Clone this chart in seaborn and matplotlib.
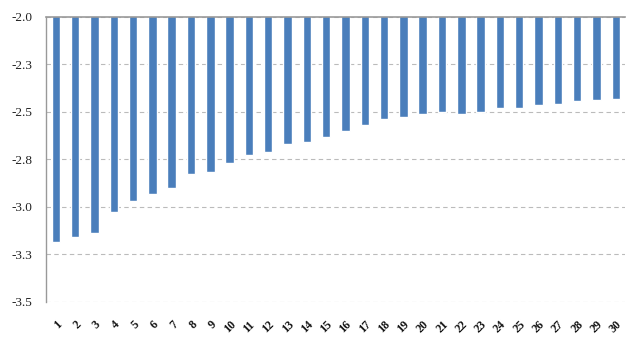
import matplotlib
matplotlib.use("Agg")
import matplotlib.pyplot as plt
import seaborn as sns
import pandas as pd

categories = [str(i) for i in range(1, 31)]
values = [-3.184, -3.160, -3.140, -3.030, -2.967, -2.930, -2.902, -2.828, -2.818, -2.768,
          -2.726, -2.714, -2.670, -2.658, -2.632, -2.602, -2.568, -2.539, -2.528, -2.512,
          -2.502, -2.509, -2.500, -2.479, -2.479, -2.465, -2.456, -2.444, -2.439, -2.432]
y_ticks = [-2.0, -2.25, -2.5, -2.75, -3.0, -3.25, -3.5]
y_tick_labels = ["-2.0", "-2.3", "-2.5", "-2.8", "-3.0", "-3.3", "-3.5"]

sns.set_theme(style="white")
plt.rcParams['font.family'] = ['Liberation Serif', 'DejaVu Serif']

df = pd.DataFrame({"cat": categories, "val": values})

fig = plt.figure(figsize=(6.33, 3.39), dpi=100)
ax = fig.add_axes([0.073, 0.11, 0.915, 0.84])

sns.barplot(data=df, x="cat", y="val", color="#4A7EBB", saturation=1, width=0.44, ax=ax)

ax.set_ylim(-3.5, -2.0)
ax.set_xlim(-0.5, 29.5)
ax.set_yticks(y_ticks)
ax.set_yticklabels(y_tick_labels, fontsize=9.5, color="#222222")
ax.set_xticks(range(len(categories)))
ax.set_xticklabels(categories, rotation=45, ha="right", rotation_mode="anchor",
                   fontsize=8.5, fontweight="bold", color="#111111")
ax.tick_params(axis="y", length=0, pad=10)
ax.tick_params(axis="x", length=0, pad=12)
ax.set_xlabel("")
ax.set_ylabel("")

ax.yaxis.grid(True, linestyle=(0, (4, 3)), color="#BBBBBB", linewidth=0.8)
ax.set_axisbelow(True)

for s in ["right", "bottom"]:
    ax.spines[s].set_visible(False)
ax.spines["left"].set_color("#999999")
ax.spines["left"].set_linewidth(1.0)
ax.spines["top"].set_color("#999999")
ax.spines["top"].set_linewidth(1.2)

fig.savefig("out.png", dpi=100, facecolor="white")
